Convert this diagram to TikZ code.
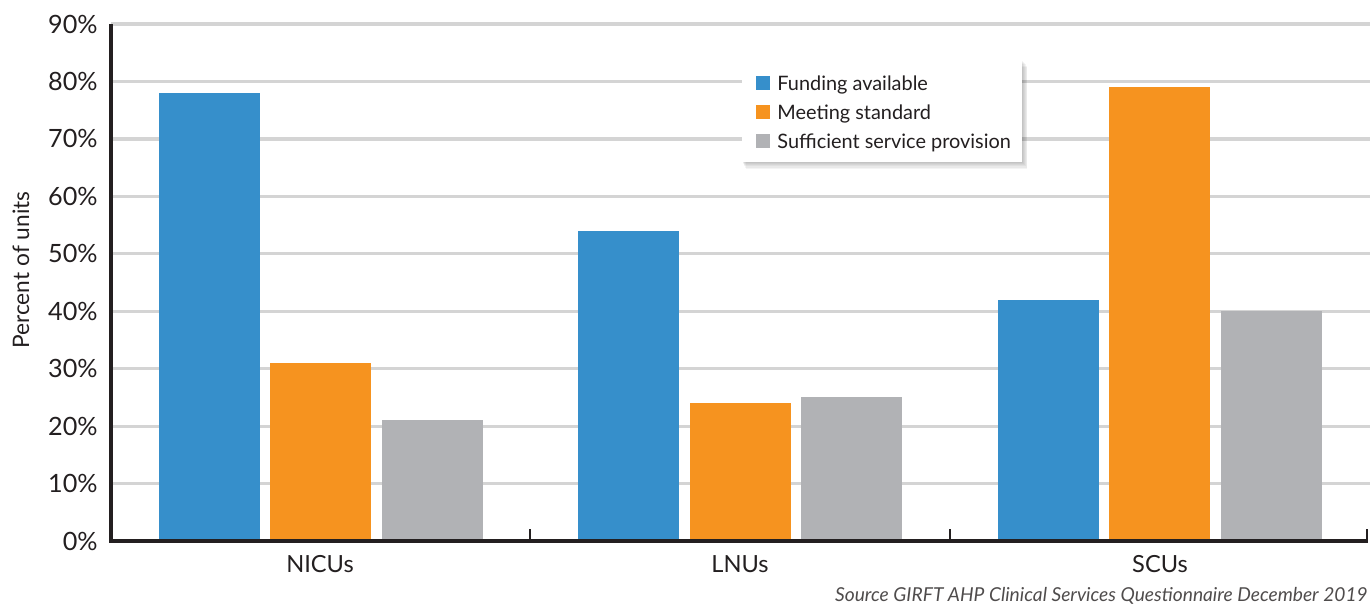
\documentclass[tikz,border=0pt]{standalone}
\usepackage{fontspec}
\setmainfont{Lato}
\definecolor{cblue}{HTML}{368FCB}
\definecolor{corange}{HTML}{F6931F}
\definecolor{cgray}{HTML}{B1B2B5}
\definecolor{gridc}{HTML}{D4D4D4}
\definecolor{axisc}{HTML}{231F20}
\definecolor{txt}{HTML}{231F20}
\tikzset{
  gridline/.style={gridc, line width=1.6},
  axisline/.style={axisc, line width=2.4},
  ticklab/.style={anchor=east, text=txt, font=\fontsize{12.6}{14}\selectfont, inner sep=0pt},
  catlab/.style={anchor=center, text=txt, font=\fontsize{11.8}{14}\selectfont, inner sep=0pt},
  legtext/.style={anchor=west, text=txt, font=\fontsize{9.95}{12}\selectfont, inner sep=0pt},
  legkey/.style={minimum size=7pt, inner sep=0pt, draw=none},
}
\begin{document}
\begin{tikzpicture}[x=0.5pt, y=-0.5pt]
\useasboundingbox (0,0) rectangle (1370,606);
% horizontal gridlines and value labels
\foreach \v in {1,...,9} {
  \pgfmathsetmacro{\yy}{541-57.44*\v}
  \draw[gridline] (111,\yy) -- (1370,\yy);
}
\node[ticklab] (t0) at (98,541) {0\%};
\foreach \v in {1,...,9} {
  \pgfmathsetmacro{\yy}{541-57.44*\v}
  \node[ticklab] (t\v) at (98,\yy) {\v0\%};
}
% bars: value in percent -> height 5.744 px per percent
\newcommand{\drawbar}[3]{%
  \pgfmathsetmacro{\bartop}{541-5.744*#2}
  \fill[#3] (#1-50.5,\bartop) rectangle (#1+50.5,541);
}
\drawbar{209.5}{78}{cblue}
\drawbar{320.5}{31}{corange}
\drawbar{432.5}{21}{cgray}
\drawbar{628.5}{54}{cblue}
\drawbar{740.5}{24}{corange}
\drawbar{851.5}{25}{cgray}
\drawbar{1048}{42}{cblue}
\drawbar{1159.5}{79}{corange}
\drawbar{1271.5}{40}{cgray}
% axes
\draw[axisline] (111,24) -- (111,541) -- (1368,541);
\draw[axisc, line width=1.2] (530,541) -- (530,529);
\draw[axisc, line width=1.2] (950,541) -- (950,529);
\draw[axisc, line width=1.2] (1367,541) -- (1367,529);
% category labels
\node[catlab] (nicu) at (320,564) {NICUs};
\node[catlab] (lnu) at (740,564) {LNUs};
\node[catlab] (scu) at (1160,564) {SCUs};
% axis title
\node[rotate=90, text=txt, font=\fontsize{11.35}{13}\selectfont, inner sep=0pt] (ytitle) at (21,270) {Percent of units};
% legend with soft shadow
\foreach \i in {1,...,6} {
  \fill[black, opacity=0.045] (742+\i*0.6,60+\i*1.1) rectangle (1022+\i*0.9,162+\i*1.1);
}
\fill[white] (742,60) rectangle (1022,162);
\node[legkey, fill=cblue] (k1) at (763,83) {};
\node[legkey, fill=corange] (k2) at (763,112) {};
\node[legkey, fill=cgray] (k3) at (763,141) {};
\node[legtext] (l1) at (777,84.5) {Funding available};
\node[legtext] (l2) at (777,113.5) {Meeting standard};
\node[legtext] (l3) at (777,142.5) {Sufficient service provision};
% source note
\node[anchor=east, text=txt!80, font=\itshape\fontsize{9.6}{11}\selectfont, inner sep=0pt] (src) at (1368,596) {Source GIRFT AHP Clinical Services Questionnaire December 2019};
\end{tikzpicture}
\end{document}
